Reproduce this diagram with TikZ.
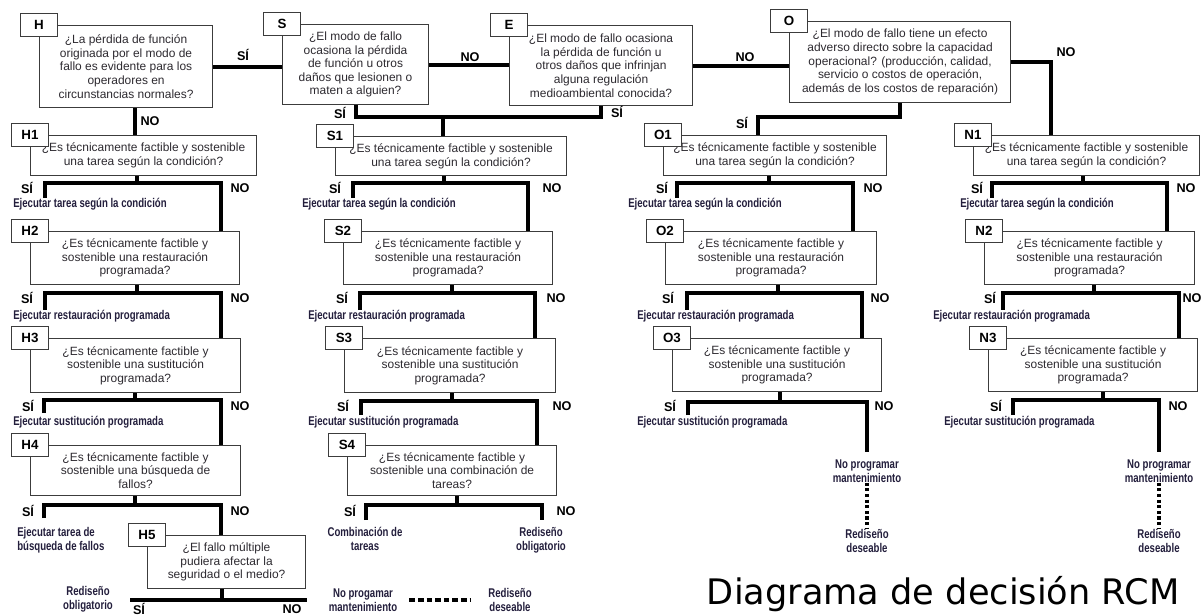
\documentclass[tikz,border=0pt]{standalone}
\usepackage{fontspec}
\setmainfont{Liberation Sans}
\newfontfamily\condfont[FakeStretch=0.76]{Liberation Sans}
\newfontfamily\titlefont{DejaVu Sans}
\usetikzlibrary{positioning}
\definecolor{qtext}{RGB}{45,42,48}
\definecolor{acttext}{RGB}{35,30,60}
\definecolor{boxline}{RGB}{60,60,60}
\tikzset{
  wh/.style 2 args={minimum width=#1*0.025cm, minimum height=#2*0.025cm},
  qbox/.style={draw=boxline, line width=0.8pt, fill=white, anchor=north west, align=center,
    inner sep=1pt, text=qtext, font=\fontsize{8.5}{9.7}\selectfont},
  qtag/.style={draw=boxline, line width=0.8pt, fill=white, minimum width=0.92cm,
    minimum height=0.58cm, inner sep=0pt, font=\bfseries\fontsize{9.5}{10}\selectfont},
  flow/.style={line width=2.9pt},
  yn/.style={font=\bfseries\fontsize{9}{10}\selectfont, inner sep=0pt},
  act/.style={font=\condfont\bfseries\fontsize{9}{10}\selectfont, text=acttext, align=center, inner sep=0pt},
  dotline/.style={line width=2.4pt, dash pattern=on 2.2pt off 1.8pt},
  dashline/.style={line width=2.4pt, dash pattern=on 4pt off 2.1pt}
}

\begin{document}
\begin{tikzpicture}[x=0.025cm, y=-0.025cm]
  \useasboundingbox (0,0) rectangle (1202,616);

  % first row
  \node[qbox, wh={173}{82}] (H) at (39,25) {¿La pérdida de función\\originada por el modo de\\fallo es evidente para los\\operadores en\\circunstancias normales?};
  \node[qtag] (Htag) at (H.north west) {H};
  \node[qbox, wh={146}{80}] (S) at (282,24) {¿El modo de fallo\\ocasiona la pérdida\\de función u otros\\daños que lesionen o\\maten a alguien?};
  \node[qtag] (Stag) at (S.north west) {S};
  \node[qbox, wh={183}{80}] (E) at (509,25) {¿El modo de fallo ocasiona\\la pérdida de función u\\otros daños que infrinjan\\alguna regulación\\medioambiental conocida?};
  \node[qtag] (Etag) at (E.north west) {E};
  \node[qbox, wh={221}{81}] (O) at (789,21) {¿El modo de fallo tiene un efecto\\adverso directo sobre la capacidad\\operacional? (producción, calidad,\\servicio o costos de operación,\\además de los costos de reparación)};
  \node[qtag] (Otag) at (O.north west) {O};

  % column H
  \node[qbox, wh={226}{40}] (H1) at (30,135) {¿Es técnicamente factible y sostenible\\una tarea según la condición?};
  \node[qtag] (H1tag) at (H1.north west) {H1};
  \node[qbox, wh={209}{53}] (H2) at (30,231) {¿Es técnicamente factible y\\sostenible una restauración\\programada?};
  \node[qtag] (H2tag) at (H2.north west) {H2};
  \node[qbox, wh={210}{54}] (H3) at (30,338) {¿Es técnicamente factible y\\sostenible una sustitución\\programada?};
  \node[qtag] (H3tag) at (H3.north west) {H3};
  \node[qbox, wh={210}{50}] (H4) at (30,445) {¿Es técnicamente factible y\\sostenible una búsqueda de\\fallos?};
  \node[qtag] (H4tag) at (H4.north west) {H4};
  \node[qbox, wh={158}{53}] (H5) at (147,535) {¿El fallo múltiple\\pudiera afectar la\\seguridad o el medio?};
  \node[qtag] (H5tag) at (H5.north west) {H5};

  % column S
  \node[qbox, wh={231}{39}] (S1) at (335,136) {¿Es técnicamente factible y sostenible\\una tarea según la condición?};
  \node[qtag] (S1tag) at (S1.north west) {S1};
  \node[qbox, wh={209}{53}] (S2) at (343,231) {¿Es técnicamente factible y\\sostenible una restauración\\programada?};
  \node[qtag] (S2tag) at (S2.north west) {S2};
  \node[qbox, wh={211}{54}] (S3) at (344,338) {¿Es técnicamente factible y\\sostenible una sustitución\\programada?};
  \node[qtag] (S3tag) at (S3.north west) {S3};
  \node[qbox, wh={209}{50}] (S4) at (347,445) {¿Es técnicamente factible y\\sostenible una combinación de\\tareas?};
  \node[qtag] (S4tag) at (S4.north west) {S4};

  % column O
  \node[qbox, wh={223}{40}] (O1) at (663,135) {¿Es técnicamente factible y sostenible\\una tarea según la condición?};
  \node[qtag] (O1tag) at (O1.north west) {O1};
  \node[qbox, wh={211}{53}] (O2) at (665,231) {¿Es técnicamente factible y\\sostenible una restauración\\programada?};
  \node[qtag] (O2tag) at (O2.north west) {O2};
  \node[qbox, wh={209}{53}] (O3) at (672,338) {¿Es técnicamente factible y\\sostenible una sustitución\\programada?};
  \node[qtag] (O3tag) at (O3.north west) {O3};

  % column N
  \node[qbox, wh={226}{40}] (N1) at (973,135) {¿Es técnicamente factible y sostenible\\una tarea según la condición?};
  \node[qtag] (N1tag) at (N1.north west) {N1};
  \node[qbox, wh={210}{53}] (N2) at (984,231) {¿Es técnicamente factible y\\sostenible una restauración\\programada?};
  \node[qtag] (N2tag) at (N2.north west) {N2};
  \node[qbox, wh={209}{53}] (N3) at (988,338) {¿Es técnicamente factible y\\sostenible una sustitución\\programada?};
  \node[qtag] (N3tag) at (N3.north west) {N3};

  % links of the first row
  \draw[flow] (H.east) -- (H.east -| S.west);
  \draw[flow] (S.east) -- (S.east -| E.west);
  \draw[flow] (E.east) -- (E.east -| O.west);
  \coordinate (onj) at (1051,0);
  \draw[flow] (O.east) -| (onj |- N1.north);
  \coordinate (hj) at (135,0);
  \draw[flow] (hj |- H.south) -- (hj |- H1.north);
  \coordinate (sej) at (443,117);
  \draw[flow] (S.south) |- (sej);
  \draw[flow] (E.south) |- (sej);
  \draw[flow] (sej) -- (sej |- S1.north);
  \coordinate (oj) at (758,117);
  \draw[flow] (O.south) |- (oj) -- (oj |- O1.north);
  \node[yn] (hsi) at (243,55) {SÍ};
  \node[yn] (sno) at (470,57) {NO};
  \node[yn] (eno) at (745,57) {NO};
  \node[yn] (ono) at (1066,52) {NO};
  \node[yn] (ssi) at (340,113) {SÍ};
  \node[yn] (esi) at (617,112) {SÍ};
  \node[yn] (osi) at (742,123) {SÍ};
  \node[yn] (hno) at (150,121) {NO};

  % forks of column H
  \coordinate (h1j) at (137,183); \coordinate (h1si) at (45,198); \coordinate (h1no) at (221,231);
  \draw[flow] (h1j |- H1.south) -- (h1j);
  \draw[flow] (h1si) |- (h1j) -| (h1no);
  \node[yn] (h1y) at (27,188) {SÍ};
  \node[yn] (h1n) at (240,188) {NO};
  \node[act, anchor=west] (h1a) at (13,204) {Ejecutar tarea según la condición};

  \coordinate (h2j) at (137,293); \coordinate (h2si) at (45,310); \coordinate (h2no) at (221,338);
  \draw[flow] (h2j |- H2.south) -- (h2j);
  \draw[flow] (h2si) |- (h2j) -| (h2no);
  \node[yn] (h2y) at (27,298) {SÍ};
  \node[yn] (h2n) at (240,298) {NO};
  \node[act, anchor=west] (h2a) at (13,316) {Ejecutar restauración programada};

  \coordinate (h3j) at (135,400); \coordinate (h3si) at (44,413); \coordinate (h3no) at (221,445);
  \draw[flow] (h3j |- H3.south) -- (h3j);
  \draw[flow] (h3si) |- (h3j) -| (h3no);
  \node[yn] (h3y) at (28,406) {SÍ};
  \node[yn] (h3n) at (240,406) {NO};
  \node[act, anchor=west] (h3a) at (13,422) {Ejecutar sustitución programada};

  \coordinate (h4j) at (135,505); \coordinate (h4si) at (44,518); \coordinate (h4no) at (221,535);
  \draw[flow] (h4j |- H4.south) -- (h4j);
  \draw[flow] (h4si) |- (h4j) -| (h4no);
  \node[yn] (h4y) at (28,511) {SÍ};
  \node[yn] (h4n) at (240,511) {NO};
  \node[act, anchor=west, align=left] (h4a) at (17,540) {Ejecutar tarea de\\búsqueda de fallos};

  \coordinate (h5j) at (222,600); \coordinate (h5si) at (130,600); \coordinate (h5no) at (307,600);
  \draw[flow] (h5j |- H5.south) -- (h5j);
  \draw[flow] (h5si) -- (h5no);
  \node[yn] (h5y) at (139,609) {SÍ};
  \node[yn] (h5n) at (292,609) {NO};
  \node[act] (h5a) at (88,599) {Rediseño\\obligatorio};

  % forks of column S
  \coordinate (s1j) at (444,183); \coordinate (s1si) at (353,198); \coordinate (s1no) at (528,231);
  \draw[flow] (s1j |- S1.south) -- (s1j);
  \draw[flow] (s1si) |- (s1j) -| (s1no);
  \node[yn] (s1y) at (335,188) {SÍ};
  \node[yn] (s1n) at (552,188) {NO};
  \node[act, anchor=west] (s1a) at (302,204) {Ejecutar tarea según la condición};

  \coordinate (s2j) at (452,293); \coordinate (s2si) at (360,310); \coordinate (s2no) at (535,338);
  \draw[flow] (s2j |- S2.south) -- (s2j);
  \draw[flow] (s2si) |- (s2j) -| (s2no);
  \node[yn] (s2y) at (342,298) {SÍ};
  \node[yn] (s2n) at (556,298) {NO};
  \node[act, anchor=west] (s2a) at (308,316) {Ejecutar restauración programada};

  \coordinate (s3j) at (452,401); \coordinate (s3si) at (361,415); \coordinate (s3no) at (537,445);
  \draw[flow] (s3j |- S3.south) -- (s3j);
  \draw[flow] (s3si) |- (s3j) -| (s3no);
  \node[yn] (s3y) at (343,406) {SÍ};
  \node[yn] (s3n) at (562,406) {NO};
  \node[act, anchor=west] (s3a) at (308,422) {Ejecutar sustitución programada};

  \coordinate (s4j) at (457,505); \coordinate (s4si) at (366,520); \coordinate (s4no) at (542,520);
  \draw[flow] (s4j |- S4.south) -- (s4j);
  \draw[flow] (s4si) |- (s4j) -| (s4no);
  \node[yn] (s4y) at (350,511) {SÍ};
  \node[yn] (s4n) at (566,511) {NO};
  \node[act] (s4a) at (365,539) {Combinación de\\tareas};
  \node[act] (s4b) at (541,540) {Rediseño\\obligatorio};

  % forks of column O
  \coordinate (o1j) at (769,183); \coordinate (o1si) at (677,198); \coordinate (o1no) at (853,231);
  \draw[flow] (o1j |- O1.south) -- (o1j);
  \draw[flow] (o1si) |- (o1j) -| (o1no);
  \node[yn] (o1y) at (662,188) {SÍ};
  \node[yn] (o1n) at (873,188) {NO};
  \node[act, anchor=west] (o1a) at (628,204) {Ejecutar tarea según la condición};

  \coordinate (o2j) at (778,293); \coordinate (o2si) at (687,310); \coordinate (o2no) at (862,338);
  \draw[flow] (o2j |- O2.south) -- (o2j);
  \draw[flow] (o2si) |- (o2j) -| (o2no);
  \node[yn] (o2y) at (668,298) {SÍ};
  \node[yn] (o2n) at (880,298) {NO};
  \node[act, anchor=west] (o2a) at (637,316) {Ejecutar restauración programada};

  \coordinate (o3j) at (780,402); \coordinate (o3si) at (688,415); \coordinate (o3no) at (867,452);
  \draw[flow] (o3j |- O3.south) -- (o3j);
  \draw[flow] (o3si) |- (o3j) -| (o3no);
  \node[yn] (o3y) at (670,406) {SÍ};
  \node[yn] (o3n) at (884,406) {NO};
  \node[act, anchor=west] (o3a) at (637,422) {Ejecutar sustitución programada};
  \node[act] (onp) at (867,471) {No programar\\mantenimiento};
  \node[act] (ord) at (867,541) {Rediseño\\deseable};
  \draw[dotline] (onp) -- (ord);

  % forks of column N
  \coordinate (n1j) at (1083,183); \coordinate (n1si) at (992,198); \coordinate (n1no) at (1167,231);
  \draw[flow] (n1j |- N1.south) -- (n1j);
  \draw[flow] (n1si) |- (n1j) -| (n1no);
  \node[yn] (n1y) at (977,188) {SÍ};
  \node[yn] (n1n) at (1186,188) {NO};
  \node[act, anchor=west] (n1a) at (960,204) {Ejecutar tarea según la condición};

  \coordinate (n2j) at (1094,293); \coordinate (n2si) at (1003,310); \coordinate (n2no) at (1179,338);
  \draw[flow] (n2j |- N2.south) -- (n2j);
  \draw[flow] (n2si) |- (n2j) -| (n2no);
  \node[yn] (n2y) at (990,298) {SÍ};
  \node[yn] (n2n) at (1192,298) {NO};
  \node[act, anchor=west] (n2a) at (933,316) {Ejecutar restauración programada};

  \coordinate (n3j) at (1103,400); \coordinate (n3si) at (1013,415); \coordinate (n3no) at (1159,452);
  \draw[flow] (n3j |- N3.south) -- (n3j);
  \draw[flow] (n3si) |- (n3j) -| (n3no);
  \node[yn] (n3y) at (996,406) {SÍ};
  \node[yn] (n3n) at (1178,406) {NO};
  \node[act, anchor=west] (n3a) at (944,422) {Ejecutar sustitución programada};
  \node[act] (nnp) at (1159,471) {No programar\\mantenimiento};
  \node[act] (nrd) at (1159,541) {Rediseño\\deseable};
  \draw[dotline] (nnp) -- (nrd);

  % legend and title
  \node[act] (lnp) at (363,600) {No progamar\\mantenimiento};
  \node[act] (lrd) at (510,600) {Rediseño\\deseable};
  \draw[dashline, shorten <=0.3cm, shorten >=0.44cm] (lnp) -- (lrd);
  \node[anchor=base west, font=\titlefont\fontsize{25}{30}\selectfont] (title) at (702,604) {Diagrama de decisión RCM};
\end{tikzpicture}
\end{document}
